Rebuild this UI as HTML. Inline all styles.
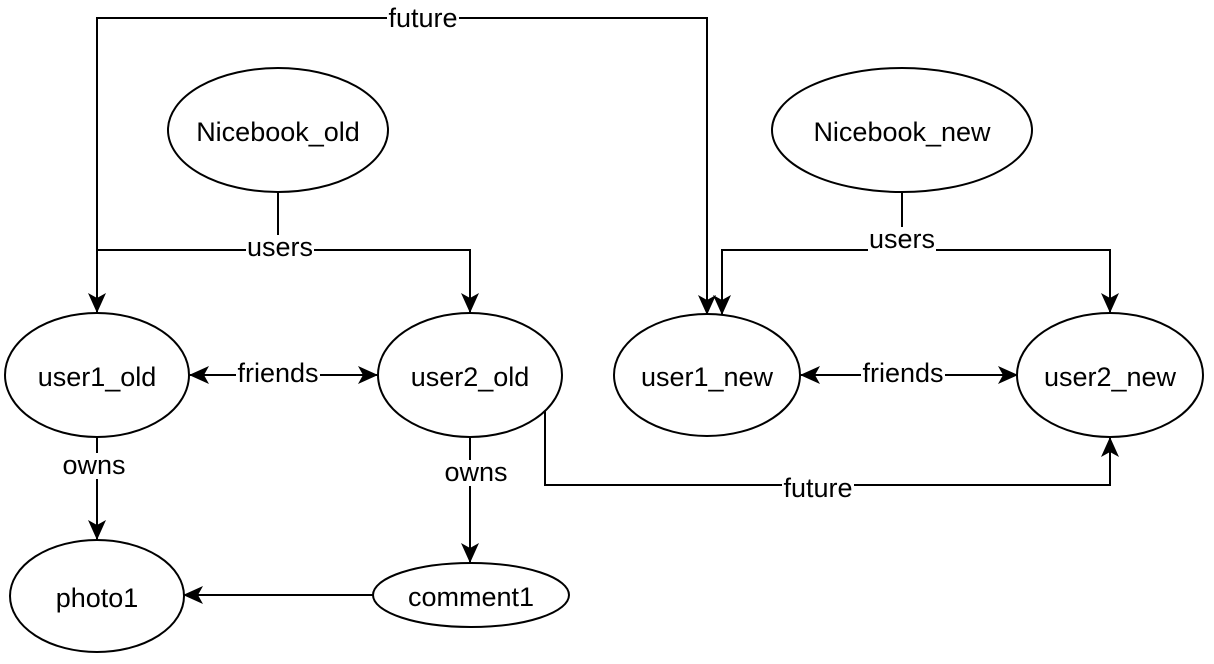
<!DOCTYPE html>
<html><head><style>html,body{margin:0;padding:0;background:#fff}svg{display:block}text{font-family:"Liberation Sans",sans-serif;font-size:27px;fill:#000}</style></head>
<body>
<svg width="1214" height="664" viewBox="0 0 1214 664" xmlns="http://www.w3.org/2000/svg">
<defs>
<marker id="a" markerWidth="20" markerHeight="18" refX="19" refY="9" orient="auto" markerUnits="userSpaceOnUse" viewBox="0 0 20 18">
<path d="M0,0 L20,9 L0,18 L5,9 Z" fill="#000"/>
</marker>
<marker id="s" markerWidth="20" markerHeight="18" refX="1" refY="9" orient="auto" markerUnits="userSpaceOnUse" viewBox="0 0 20 18">
<path d="M20,0 L0,9 L20,18 L15,9 Z" fill="#000"/>
</marker>
</defs>
<g fill="none" stroke="#000" stroke-width="2">
<path d="M97,312 V18 H707 V314" marker-end="url(#a)"/>
<path d="M97,250 V312" marker-end="url(#a)"/>
<path d="M278,192 V250"/>
<path d="M97,250 H470 V312" marker-end="url(#a)"/>
<path d="M902,192 V250"/>
<path d="M722,314 V250 H1110 V312" marker-end="url(#a)"/>
<path d="M722,270 V314" marker-end="url(#a)"/>
<path d="M190,375 H377" marker-start="url(#s)" marker-end="url(#a)"/>
<path d="M801,375 H1017" marker-start="url(#s)" marker-end="url(#a)"/>
<path d="M97,437 V539" marker-end="url(#a)"/>
<path d="M470,437 V562" marker-end="url(#a)"/>
<path d="M373,595 H184" marker-end="url(#a)"/>
<path d="M545,405 V485 H1110 V438" marker-end="url(#a)"/>
<ellipse cx="278" cy="130" rx="110" ry="62" fill="#fff"/>
<ellipse cx="902" cy="130" rx="130" ry="62" fill="#fff"/>
<ellipse cx="97" cy="375" rx="92" ry="62" fill="#fff"/>
<ellipse cx="470" cy="375" rx="92" ry="62" fill="#fff"/>
<ellipse cx="707" cy="375" rx="93" ry="61" fill="#fff"/>
<ellipse cx="1110" cy="375" rx="93" ry="62" fill="#fff"/>
<ellipse cx="97" cy="596" rx="87" ry="56" fill="#fff"/>
<ellipse cx="471" cy="595" rx="98" ry="32" fill="#fff"/>
</g>
<g text-anchor="middle">
<rect x="387" y="5" width="72" height="26" fill="#fff"/><text x="423" y="27">future</text>
<rect x="246" y="235" width="68" height="26" fill="#fff"/><text x="280" y="256">users</text>
<rect x="868" y="227" width="68" height="26" fill="#fff"/><text x="902" y="248">users</text>
<rect x="236" y="361" width="84" height="26" fill="#fff"/><text x="278" y="382">friends</text>
<rect x="861" y="361" width="84" height="26" fill="#fff"/><text x="903" y="382">friends</text>
<rect x="59" y="453" width="70" height="26" fill="#fff"/><text x="94" y="474">owns</text>
<rect x="441" y="460" width="70" height="26" fill="#fff"/><text x="476" y="481">owns</text>
<rect x="782" y="475" width="72" height="26" fill="#fff"/><text x="818" y="497">future</text>
<g style="font-size:30px">
<text x="278" y="141">Nicebook_old</text>
<text x="902" y="141">Nicebook_new</text>
<text x="97" y="386">user1_old</text>
<text x="470" y="386">user2_old</text>
<text x="707" y="386">user1_new</text>
<text x="1110" y="386">user2_new</text>
<text x="97" y="607">photo1</text>
<text x="471" y="606">comment1</text>
</g>
</g>
</svg>
</body></html>
